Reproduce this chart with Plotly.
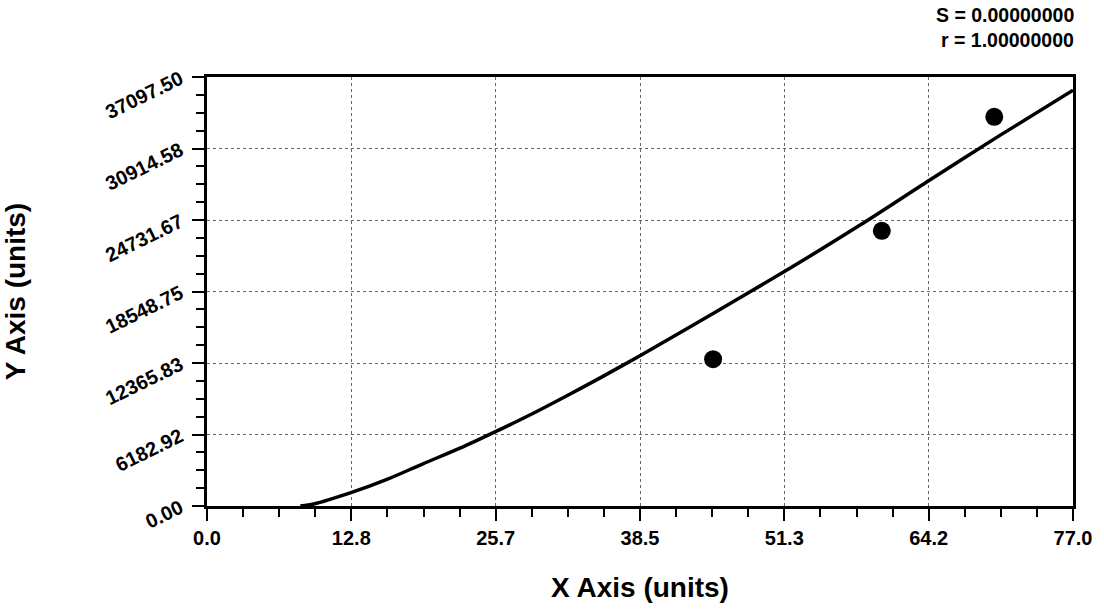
import plotly.graph_objects as go

# Data
point_x = [45.0, 60.0, 70.0]
point_y = [12700.0, 23800.0, 33650.0]

curve_x = [8.3, 9.5, 12.8, 16.0, 19.2, 22.5, 25.7, 28.7, 32.0, 35.0, 38.5,
           45.0, 51.3, 58.0, 64.2, 70.5, 77.0]
curve_y = [0.0, 170.0, 1150.0, 2300.0, 3650.0, 5000.0, 6450.0, 7870.0, 9540.0, 11100.0, 13000.0,
           16650.0, 20250.0, 24250.0, 28150.0, 32050.0, 35950.0]

x_tickvals = [0.0, 77 / 6, 2 * 77 / 6, 3 * 77 / 6, 4 * 77 / 6, 5 * 77 / 6, 77.0]
x_ticktext = ["0.0", "12.8", "25.7", "38.5", "51.3", "64.2", "77.0"]
y_tickvals = [0.0, 6182.92, 12365.83, 18548.75, 24731.67, 30914.58, 37097.50]
y_ticktext = ["0.00", "6182.92", "12365.83", "18548.75", "24731.67", "30914.58", "37097.50"]

stats_text = ["S = 0.00000000", "r = 1.00000000"]

x_minor = [x_tickvals[i] + (x_tickvals[i + 1] - x_tickvals[i]) * k / 4
           for i in range(len(x_tickvals) - 1) for k in (1, 2, 3)]
y_minor = [y_tickvals[i] + (y_tickvals[i + 1] - y_tickvals[i]) * k / 4
           for i in range(len(y_tickvals) - 1) for k in (1, 2, 3)]

FONT = "Liberation Sans, Arial, sans-serif"

fig = go.Figure()
fig.add_trace(go.Scatter(x=curve_x, y=curve_y, mode="lines",
                         line=dict(color="black", width=3.5, shape="spline", smoothing=0.8),
                         showlegend=False, hoverinfo="skip"))
fig.add_trace(go.Scatter(x=point_x, y=point_y, mode="markers",
                         marker=dict(color="black", size=18, line=dict(width=0)),
                         showlegend=False))

axis_common = dict(
    showline=True, mirror=True, linecolor="black", linewidth=2.5,
    ticks="outside", ticklen=12, tickwidth=2, tickcolor="black",
    showgrid=True, gridcolor="#666666", gridwidth=1, griddash="dot",
    zeroline=False,
    tickfont=dict(family=FONT, size=20, color="black", weight="bold"),
)

fig.update_xaxes(
    range=[0, 77], tickmode="array", tickvals=x_tickvals, ticktext=x_ticktext,
    minor=dict(tickmode="array", tickvals=x_minor, ticks="outside", ticklen=8,
               tickwidth=2, tickcolor="black", showgrid=False),
    title=dict(text="<b>X Axis (units)</b>", font=dict(family=FONT, size=28, color="black"),
               standoff=30),
    **axis_common,
)
fig.update_yaxes(
    range=[0, 37097.5], tickmode="array", tickvals=y_tickvals, ticktext=y_ticktext,
    tickangle=-26, ticklabelstandoff=8,
    minor=dict(tickmode="array", tickvals=y_minor, ticks="outside", ticklen=8,
               tickwidth=2, tickcolor="black", showgrid=False),
    title=dict(text="<b>Y Axis (units)</b>", font=dict(family=FONT, size=28, color="black"),
               standoff=70),
    **axis_common,
)

for i, t in enumerate(stats_text):
    fig.add_annotation(text="<b>" + t + "</b>", xref="paper", yref="paper",
                       x=1.0, y=1.0, xanchor="right", yanchor="middle",
                       xshift=3, yshift=62 - 25 * i, showarrow=False,
                       font=dict(family=FONT, size=19.5, color="black"))

fig.update_layout(
    width=1104, height=610,
    margin=dict(l=206, r=28, t=77, b=104),
    paper_bgcolor="white", plot_bgcolor="white",
    showlegend=False,
)

fig.write_html("out.html")
